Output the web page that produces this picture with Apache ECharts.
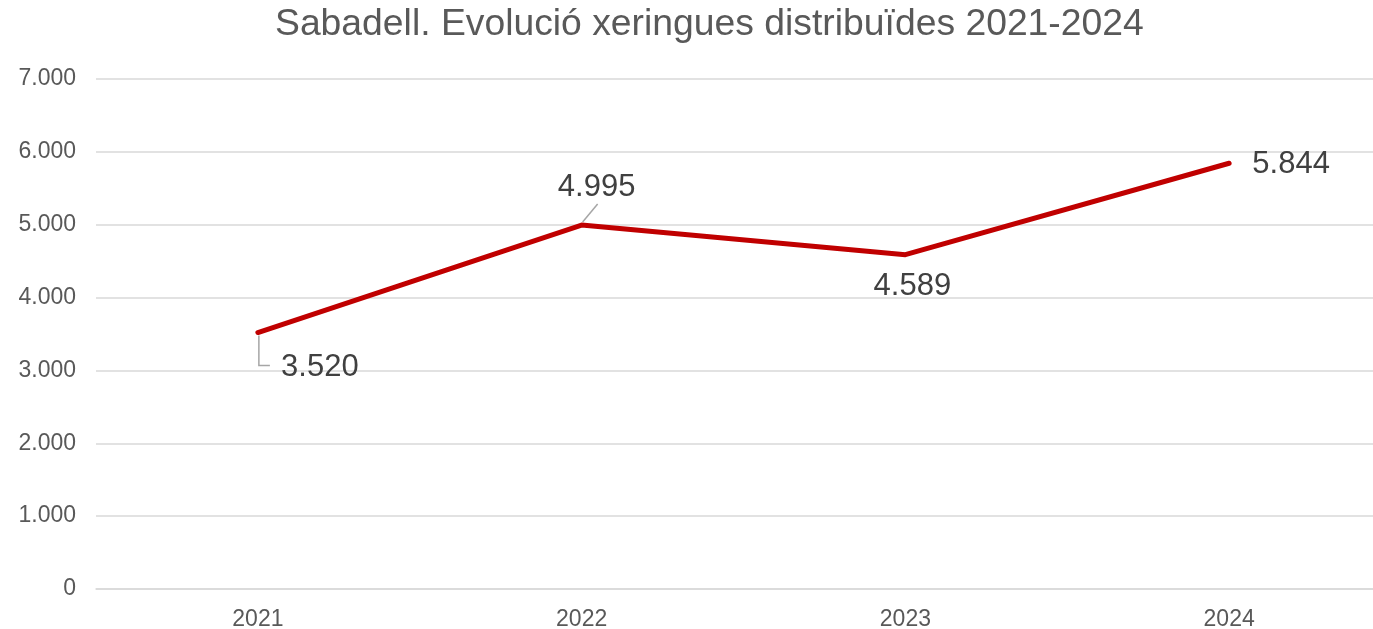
<!DOCTYPE html>
<html>
<head>
<meta charset="utf-8">
<script src="https://cdn.jsdelivr.net/npm/echarts@6/dist/echarts.min.js"></script>
<style>html,body{margin:0;padding:0;background:#fff}#c{width:1373px;height:629px}</style>
</head>
<body>
<div id="c"></div>
<script>
const titleText = 'Sabadell. Evolució xeringues distribuïdes 2021-2024';
const years = ['2021', '2022', '2023', '2024'];
const syringes = [3520, 4995, 4589, 5844];
const labelOffsets = [[62, 35], [15, -38], [7, 32], [62, 1]];

const fmt = v => String(v).replace(/\B(?=(\d{3})+(?!\d))/g, '.');
const chart = echarts.init(document.getElementById('c'), null, {renderer: 'canvas'});
chart.setOption({
  animation: false,
  backgroundColor: '#ffffff',
  textStyle: {fontFamily: 'Liberation Sans, Arial, sans-serif'},
  title: {
    text: titleText, left: 270, top: 1,
    textStyle: {color: '#595959', fontSize: 37.3, fontWeight: 'normal', fontFamily: 'Liberation Sans, Arial, sans-serif'}
  },
  grid: {left: 96, width: 1295, top: 79, bottom: 40, containLabel: false, outerBoundsMode: 'none'},
  xAxis: {
    type: 'category', data: years, boundaryGap: true,
    axisLine: {show: true, lineStyle: {color: '#d9d9d9', width: 1.5}},
    axisTick: {show: false},
    axisLabel: {color: '#595959', fontSize: 23, margin: 19, fontFamily: 'Liberation Sans, Arial, sans-serif'}
  },
  yAxis: {
    type: 'value', min: 0, max: 7000, interval: 1000,
    axisLine: {show: false}, axisTick: {show: false},
    splitLine: {lineStyle: {color: '#d9d9d9', width: 1.5}},
    axisLabel: {color: '#595959', fontSize: 23, margin: 20, formatter: v => fmt(v), fontFamily: 'Liberation Sans, Arial, sans-serif'}
  },
  series: [{
    type: 'line',
    data: syringes,
    symbol: 'circle', symbolSize: 2, showSymbol: true,
    lineStyle: {color: '#c00000', width: 5, cap: 'round', join: 'round'},
    itemStyle: {color: '#c00000'},
    label: {
      show: true, position: 'inside', color: '#404040', fontSize: 31,
      fontFamily: 'Liberation Sans, Arial, sans-serif',
      formatter: p => fmt(p.value)
    },
    labelLayout: p => ({dx: labelOffsets[p.dataIndex][0], dy: labelOffsets[p.dataIndex][1]})
  }]
});

// leader lines, anchored to data points via the library's coordinate conversion
const p0 = chart.convertToPixel({seriesIndex: 0}, [years[0], syringes[0]]);
const p1 = chart.convertToPixel({seriesIndex: 0}, [years[1], syringes[1]]);
chart.setOption({
  graphic: [
    {type: 'polyline', z: 1, shape: {points: [[p0[0] + 1, p0[1] + 3], [p0[0] + 1, p0[1] + 33], [p0[0] + 12, p0[1] + 33]]},
     style: {stroke: '#a6a6a6', lineWidth: 1.5, fill: null}},
    {type: 'line', z: 1, shape: {x1: p1[0] + 1, y1: p1[1] - 3, x2: p1[0] + 16, y2: p1[1] - 21},
     style: {stroke: '#a6a6a6', lineWidth: 1.5}}
  ]
});
</script>
</body>
</html>
